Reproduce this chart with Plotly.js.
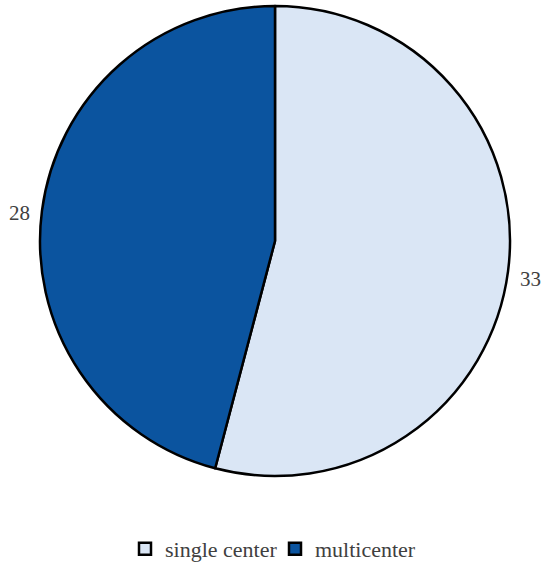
<!DOCTYPE html>
<html><head><meta charset="utf-8">
<script src="https://cdn.plot.ly/plotly-3.0.1.min.js"></script>
<style>body{margin:0;background:#fff}#chart{width:550px;height:571px}</style>
</head><body><div id="chart"></div>
<script>
const categories = ["single center", "multicenter"];
const counts = [33, 28];
const colors = ["#DAE6F5", "#0B549F"];

const W = 550, H = 571, M = {l: 0, r: 0, t: 6, b: 95};
const plotW = W - M.l - M.r, plotH = H - M.t - M.b;
const labelR = 258;
const total = counts.reduce((a, b) => a + b, 0);
let cum = 0;
const annotations = counts.map(v => {
  const mid = (cum + v / 2) / total * 2 * Math.PI;
  cum += v;
  return {
    xref: "paper", yref: "paper",
    x: 0.5 + labelR * Math.sin(mid) / plotW,
    y: 0.5 + labelR * Math.cos(mid) / plotH,
    yshift: -5,
    text: String(v), showarrow: false,
    xanchor: "center", yanchor: "middle",
    font: {family: "Liberation Serif, serif", size: 21, color: "#404040"}
  };
});

Plotly.newPlot("chart", [{
  type: "pie",
  labels: categories,
  values: counts,
  sort: false,
  direction: "clockwise",
  rotation: 0,
  marker: {colors: colors, line: {color: "#000", width: 2.5}},
  textinfo: "none",
  hoverinfo: "label+value",
  automargin: false
}], {
  width: W, height: H,
  margin: M,
  paper_bgcolor: "#fff",
  showlegend: true,
  annotations: annotations,
  legend: {orientation: "h", x: 0.5, xanchor: "center", y: -0.155, yanchor: "middle",
    entrywidth: 105, entrywidthmode: "pixels",
    font: {family: "Liberation Serif, serif", size: 22, color: "#404040"}}
}, {displayModeBar: false});
</script></body></html>
